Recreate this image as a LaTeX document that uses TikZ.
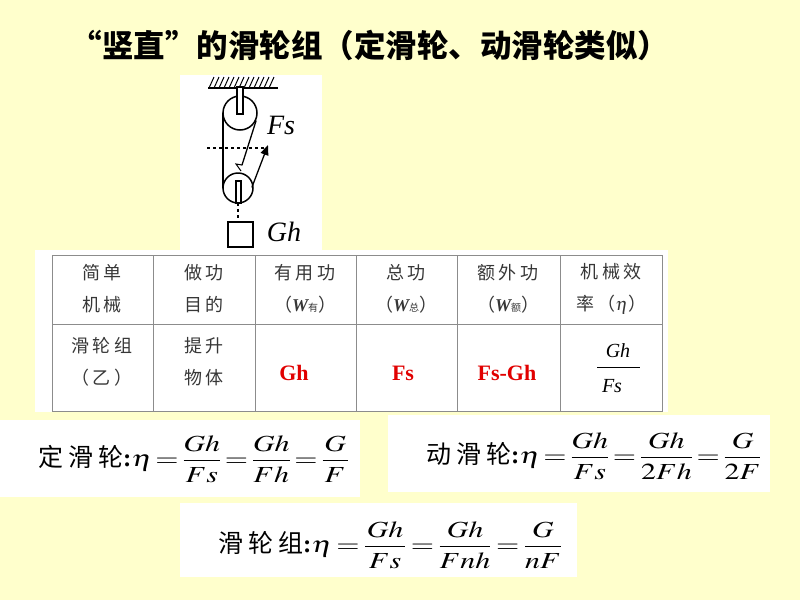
\documentclass[tikz,border=0pt]{standalone}
\usepackage{amsmath}
\usepackage{graphicx}
\usepackage{mathptmx}
\usepackage{fontspec}
\setmainfont{Liberation Serif}
\newfontfamily\cjk{Noto Sans CJK SC}
\newfontfamily\cjkwide[LetterSpace=20]{Noto Sans CJK SC}
\usepackage{xcolor}
\usetikzlibrary{arrows.meta}
\definecolor{slidebg}{RGB}{255,255,204}
\definecolor{cellgray}{RGB}{55,55,55}
\definecolor{linegray}{RGB}{140,140,140}
\definecolor{valred}{RGB}{225,0,0}
\newcommand{\widemath}[2][2]{{\fontsize{23}{26}\selectfont\scalebox{1.3}[1]{$\thickmuskip=#1mu #2$}}}

\begin{document}
\begin{tikzpicture}[x=1pt,y=-1pt,
    cell/.style={text=cellgray,font=\cjkwide\fontsize{18}{32}\selectfont,align=center,inner sep=0pt},
    value/.style={text=valred,font=\bfseries\fontsize{22}{24}\selectfont,inner sep=0pt},
    formula/.style={anchor=west,font=\cjkwide\fontsize{25}{28}\selectfont,inner sep=0pt},
    rope/.style={line width=1.3pt,line cap=round}]
    % Background and white panels
    \fill[slidebg] (0,0) rectangle (800,600);
    \useasboundingbox (0,0) rectangle (800,600);
    \fill[white] (180,75) rectangle (322,250);
    \fill[white] (35,250) rectangle (668,412);
    \fill[white] (0,420) rectangle (360,497);
    \fill[white] (388,415) rectangle (770,492);
    \fill[white] (180,503) rectangle (577,577);

    % Title
    \node (title) at (370,45) {\cjk\bfseries\fontsize{31.5}{34}\selectfont “竖直”的滑轮组（定滑轮、动滑轮类似）};

    % Draw the ceiling
    \draw[line width=1.8pt] (208,88) -- (278,88);
    \foreach \x in {209,214,...,272}
        \draw[line width=1pt] (\x,88) -- ++(5,-11);

    % Draw the pulleys
    \draw[line width=1.5pt] (240,113) circle[radius=17pt];
    \filldraw[fill=white,line width=1.1pt] (237,87) rectangle (243,114);
    \draw[line width=1.5pt] (238,188) circle[radius=15pt];
    \filldraw[fill=white,line width=1.1pt] (236,181) rectangle (241,203);

    % Draw the rope and the load
    \draw[rope] (223,113) -- (223,188);
    \draw[rope] (256,121) -- (242,165);
    \draw[line width=1pt] (242,165) -- (236,164) -- (241,171);
    \draw[rope,-{Triangle[length=10pt,width=8pt]}] (252,187) -- (268,145);
    \draw[dashed,line width=1.3pt] (207,148) -- (267,148);
    \draw[dashed,line width=1.1pt] (238,203) -- (238,222);
    \draw[line width=1.4pt] (228,222) rectangle (253,247);
    \node (fs) at (281,125) {\fontsize{28}{30}\selectfont\itshape Fs};
    \node (gh) at (284,232) {\fontsize{28}{30}\selectfont\itshape Gh};

    % Draw the table
    \draw[linegray,line width=1pt] (52,255) rectangle (662,411);
    \draw[linegray,line width=1pt] (52,324) -- (662,324);
    \foreach \x in {153,255,356,457,560}
        \draw[linegray,line width=1pt] (\x,255) -- (\x,411);

    % Header row
    \node[cell] (h1) at (102,289) {简单\\机械};
    \node[cell] (h2) at (204,289) {做功\\目的};
    \node[cell] (h3) at (305,289) {有用功\\（{\rmfamily\bfseries\itshape W}{\fontsize{10}{10}\selectfont 有}）};
    \node[cell] (h4) at (406,289) {总功\\（{\rmfamily\bfseries\itshape W}{\fontsize{10}{10}\selectfont 总}）};
    \node[cell] (h5) at (508,289) {额外功\\（{\rmfamily\bfseries\itshape W}{\fontsize{10}{10}\selectfont 额}）};
    \node[cell] (h6) at (611,289) {机械效\\率（$\eta$）};

    % Value row
    \node[cell] (r1) at (102,362) {滑轮组\\（乙）};
    \node[cell] (r2) at (204,362) {提升\\物体};
    \node[value] (useful) at (294,373) {Gh};
    \node[value] (total) at (403,373) {Fs};
    \node[value] (extra) at (507,373) {Fs-Gh};
    \node (effnum) at (618,351) {\fontsize{20}{22}\selectfont\itshape Gh};
    \node (effden) at (612,386) {\fontsize{20}{22}\selectfont\itshape Fs};
    \draw[line width=0.8pt] (597,367) -- (640,367);

    % Efficiency formulas
    \node[formula] (fixed) at (38,459) {定滑轮{\rmfamily\bfseries :}\widemath{\eta=\dfrac{Gh}{Fs}=\dfrac{Gh}{Fh}=\dfrac{\mkern1mu G\mkern1mu}{F}}};
    \node[formula] (movable) at (426,456) {动滑轮{\rmfamily\bfseries :}\widemath{\eta=\dfrac{Gh}{Fs}=\dfrac{Gh}{2Fh}=\dfrac{G}{2F}}};
    \node[formula] (block) at (218,545) {滑轮组{\rmfamily\bfseries :}\widemath[2.5]{\eta=\dfrac{\mkern1mu Gh\mkern1mu}{Fs}=\dfrac{Gh}{Fnh}=\dfrac{G}{nF}}};
\end{tikzpicture}
\end{document}
